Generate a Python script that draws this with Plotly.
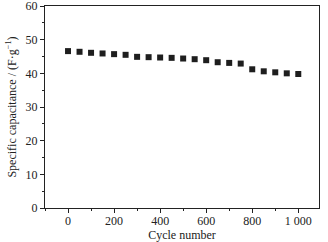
import plotly.graph_objects as go

cycles = list(range(0, 1001, 50))
capacitance = [46.6, 46.4, 46.1, 45.9, 45.7, 45.5, 44.9, 44.8, 44.7, 44.6, 44.4,
               44.2, 43.9, 43.3, 43.1, 42.9, 41.2, 40.6, 40.3, 40.0, 39.8]
x_tickvals = [0, 200, 400, 600, 800, 1000]
x_ticktext = ["0", "200", "400", "600", "800", "1 000"]
y_tickvals = [0, 10, 20, 30, 40, 50, 60]

fig = go.Figure()
fig.add_trace(go.Scatter(
    x=cycles, y=capacitance, mode="markers",
    marker=dict(symbol="square", size=6, color="#1e1e1e"),
    showlegend=False,
))

font = dict(family="Liberation Serif, Times New Roman, serif", size=12, color="#222")
fig.update_layout(
    width=328, height=242,
    margin=dict(l=45, r=9, t=6, b=34),
    paper_bgcolor="white", plot_bgcolor="white",
    font=font,
)
fig.update_xaxes(
    range=[-100, 1090], tickvals=x_tickvals, ticktext=x_ticktext,
    ticks="outside", ticklen=4, tickwidth=1, tickcolor="#222",
    minor=dict(dtick=100, tick0=0, ticks="outside", ticklen=2, tickcolor="#222"),
    showline=True, linecolor="#222", linewidth=1, mirror=True,
    showgrid=False, zeroline=False, automargin=False, ticklabeloverflow="allow",
    ticklabelstandoff=-2,
    title=dict(text="Cycle number", font=font, standoff=1),
)
fig.update_yaxes(
    range=[0, 60], tickvals=y_tickvals,
    ticks="outside", ticklen=4, tickwidth=1, tickcolor="#222",
    minor=dict(dtick=5, tick0=0, ticks="outside", ticklen=2, tickcolor="#222"),
    showline=True, linecolor="#222", linewidth=1, mirror=True,
    showgrid=False, zeroline=False, automargin=False, ticklabeloverflow="allow",
    title=dict(text="Specific capacitance / (F·g<sup>−1</sup>)", font=font, standoff=6),
)
fig.write_html(
    "out.html",
    config={"displayModeBar": False},
    post_script="document.body.style.margin='0';document.body.style.overflow='hidden';",
)
